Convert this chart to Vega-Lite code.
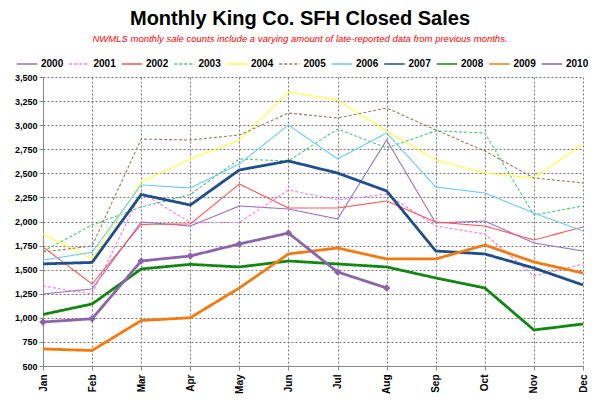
{
  "$schema": "https://vega.github.io/schema/vega-lite/v6.json",
  "width": 540,
  "height": 289,
  "autosize": "none",
  "padding": {"left": 43, "top": 77, "right": 17, "bottom": 42},
  "background": "#ffffff",
  "title": {
    "text": "Monthly King Co. SFH Closed Sales",
    "subtitle": "NWMLS monthly sale counts include a varying amount of late-reported data from previous months.",
    "font": "Liberation Sans",
    "fontSize": 20,
    "fontWeight": "bold",
    "color": "#000000",
    "subtitleFont": "Liberation Sans",
    "subtitleFontSize": 9.5,
    "subtitleFontStyle": "italic",
    "subtitleColor": "#FF0000",
    "subtitlePadding": 5,
    "anchor": "middle",
    "dx": -13,
    "offset": 10
  },
  "config": {
    "view": {"stroke": null},
    "font": "Liberation Sans"
  },
  "data": {
    "values": [
      {"year": "2000", "month": "Jan", "value": 1247}, {"year": "2000", "month": "Feb", "value": 1300}, {"year": "2000", "month": "Mar", "value": 1995}, {"year": "2000", "month": "Apr", "value": 1953}, {"year": "2000", "month": "May", "value": 2161}, {"year": "2000", "month": "Jun", "value": 2130}, {"year": "2000", "month": "Jul", "value": 2026}, {"year": "2000", "month": "Aug", "value": 2846}, {"year": "2000", "month": "Sep", "value": 1985}, {"year": "2000", "month": "Oct", "value": 2005}, {"year": "2000", "month": "Nov", "value": 1777}, {"year": "2000", "month": "Dec", "value": 1694},
      {"year": "2001", "month": "Jan", "value": 1330}, {"year": "2001", "month": "Feb", "value": 1247}, {"year": "2001", "month": "Mar", "value": 2300}, {"year": "2001", "month": "Apr", "value": 1990}, {"year": "2001", "month": "May", "value": 1990}, {"year": "2001", "month": "Jun", "value": 2327}, {"year": "2001", "month": "Jul", "value": 2223}, {"year": "2001", "month": "Aug", "value": 2286}, {"year": "2001", "month": "Sep", "value": 1953}, {"year": "2001", "month": "Oct", "value": 1870}, {"year": "2001", "month": "Nov", "value": 1434}, {"year": "2001", "month": "Dec", "value": 1559},
      {"year": "2002", "month": "Jan", "value": 1735}, {"year": "2002", "month": "Feb", "value": 1351}, {"year": "2002", "month": "Mar", "value": 1970}, {"year": "2002", "month": "Apr", "value": 1974}, {"year": "2002", "month": "May", "value": 2389}, {"year": "2002", "month": "Jun", "value": 2140}, {"year": "2002", "month": "Jul", "value": 2140}, {"year": "2002", "month": "Aug", "value": 2213}, {"year": "2002", "month": "Sep", "value": 1995}, {"year": "2002", "month": "Oct", "value": 1953}, {"year": "2002", "month": "Nov", "value": 1808}, {"year": "2002", "month": "Dec", "value": 1943},
      {"year": "2003", "month": "Jan", "value": 1690}, {"year": "2003", "month": "Feb", "value": 1964}, {"year": "2003", "month": "Mar", "value": 2150}, {"year": "2003", "month": "Apr", "value": 2280}, {"year": "2003", "month": "May", "value": 2649}, {"year": "2003", "month": "Jun", "value": 2628}, {"year": "2003", "month": "Jul", "value": 2960}, {"year": "2003", "month": "Aug", "value": 2763}, {"year": "2003", "month": "Sep", "value": 2940}, {"year": "2003", "month": "Oct", "value": 2919}, {"year": "2003", "month": "Nov", "value": 2068}, {"year": "2003", "month": "Dec", "value": 2161},
      {"year": "2004", "month": "Jan", "value": 1870}, {"year": "2004", "month": "Feb", "value": 1611}, {"year": "2004", "month": "Mar", "value": 2410}, {"year": "2004", "month": "Apr", "value": 2649}, {"year": "2004", "month": "May", "value": 2846}, {"year": "2004", "month": "Jun", "value": 3344}, {"year": "2004", "month": "Jul", "value": 3261}, {"year": "2004", "month": "Aug", "value": 2940}, {"year": "2004", "month": "Sep", "value": 2638}, {"year": "2004", "month": "Oct", "value": 2503}, {"year": "2004", "month": "Nov", "value": 2452}, {"year": "2004", "month": "Dec", "value": 2805},
      {"year": "2005", "month": "Jan", "value": 1683}, {"year": "2005", "month": "Feb", "value": 1746}, {"year": "2005", "month": "Mar", "value": 2856}, {"year": "2005", "month": "Apr", "value": 2846}, {"year": "2005", "month": "May", "value": 2898}, {"year": "2005", "month": "Jun", "value": 3126}, {"year": "2005", "month": "Jul", "value": 3074}, {"year": "2005", "month": "Aug", "value": 3178}, {"year": "2005", "month": "Sep", "value": 2950}, {"year": "2005", "month": "Oct", "value": 2732}, {"year": "2005", "month": "Nov", "value": 2452}, {"year": "2005", "month": "Dec", "value": 2400},
      {"year": "2006", "month": "Jan", "value": 1600}, {"year": "2006", "month": "Feb", "value": 1680}, {"year": "2006", "month": "Mar", "value": 2380}, {"year": "2006", "month": "Apr", "value": 2348}, {"year": "2006", "month": "May", "value": 2597}, {"year": "2006", "month": "Jun", "value": 3002}, {"year": "2006", "month": "Jul", "value": 2649}, {"year": "2006", "month": "Aug", "value": 2919}, {"year": "2006", "month": "Sep", "value": 2358}, {"year": "2006", "month": "Oct", "value": 2296}, {"year": "2006", "month": "Nov", "value": 2088}, {"year": "2006", "month": "Dec", "value": 1901},
      {"year": "2007", "month": "Jan", "value": 1560}, {"year": "2007", "month": "Feb", "value": 1575}, {"year": "2007", "month": "Mar", "value": 2280}, {"year": "2007", "month": "Apr", "value": 2171}, {"year": "2007", "month": "May", "value": 2535}, {"year": "2007", "month": "Jun", "value": 2628}, {"year": "2007", "month": "Jul", "value": 2503}, {"year": "2007", "month": "Aug", "value": 2317}, {"year": "2007", "month": "Sep", "value": 1694}, {"year": "2007", "month": "Oct", "value": 1663}, {"year": "2007", "month": "Nov", "value": 1517}, {"year": "2007", "month": "Dec", "value": 1341},
      {"year": "2008", "month": "Jan", "value": 1035}, {"year": "2008", "month": "Feb", "value": 1144}, {"year": "2008", "month": "Mar", "value": 1507}, {"year": "2008", "month": "Apr", "value": 1555}, {"year": "2008", "month": "May", "value": 1528}, {"year": "2008", "month": "Jun", "value": 1590}, {"year": "2008", "month": "Jul", "value": 1559}, {"year": "2008", "month": "Aug", "value": 1528}, {"year": "2008", "month": "Sep", "value": 1414}, {"year": "2008", "month": "Oct", "value": 1310}, {"year": "2008", "month": "Nov", "value": 874}, {"year": "2008", "month": "Dec", "value": 936},
      {"year": "2009", "month": "Jan", "value": 677}, {"year": "2009", "month": "Feb", "value": 661}, {"year": "2009", "month": "Mar", "value": 972}, {"year": "2009", "month": "Apr", "value": 1001}, {"year": "2009", "month": "May", "value": 1310}, {"year": "2009", "month": "Jun", "value": 1663}, {"year": "2009", "month": "Jul", "value": 1725}, {"year": "2009", "month": "Aug", "value": 1611}, {"year": "2009", "month": "Sep", "value": 1611}, {"year": "2009", "month": "Oct", "value": 1756}, {"year": "2009", "month": "Nov", "value": 1580}, {"year": "2009", "month": "Dec", "value": 1465},
      {"year": "2010", "month": "Jan", "value": 957}, {"year": "2010", "month": "Feb", "value": 990}, {"year": "2010", "month": "Mar", "value": 1590}, {"year": "2010", "month": "Apr", "value": 1642}, {"year": "2010", "month": "May", "value": 1767}, {"year": "2010", "month": "Jun", "value": 1880}, {"year": "2010", "month": "Jul", "value": 1476}, {"year": "2010", "month": "Aug", "value": 1310}
    ]
  },
  "encoding": {
    "x": {
      "field": "month",
      "type": "ordinal",
      "sort": ["Jan","Feb","Mar","Apr","May","Jun","Jul","Aug","Sep","Oct","Nov","Dec"],
      "scale": {"type": "point", "padding": 0},
      "axis": {
        "title": null,
        "labelAngle": -90,
        "labelFontWeight": "bold",
        "labelFontSize": 10,
        "labelColor": "#000000",
        "labelPadding": 4,
        "grid": true,
        "gridColor": "#777777",
        "gridDash": [2, 2],
        "gridWidth": 1,
        "domainColor": "#888888",
        "tickColor": "#888888",
        "tickSize": 4
      }
    },
    "y": {
      "field": "value",
      "type": "quantitative",
      "scale": {"domain": [500, 3500], "nice": false, "zero": false},
      "axis": {
        "title": null,
        "values": [500, 750, 1000, 1250, 1500, 1750, 2000, 2250, 2500, 2750, 3000, 3250, 3500],
        "format": ",.0f",
        "labelFontWeight": "bold",
        "labelFontSize": 9,
        "labelColor": "#000000",
        "grid": true,
        "gridColor": "#777777",
        "gridDash": [2, 2],
        "gridWidth": 1,
        "domainColor": "#888888",
        "tickColor": "#888888",
        "tickSize": 4
      }
    }
  },
  "layer": [
    {
      "transform": [{"filter": "toNumber(datum.year) < 2007"}],
      "mark": {"type": "line", "interpolate": "linear", "strokeWidth": 1.1},
      "encoding": {
        "color": {
          "field": "year",
          "type": "nominal",
          "scale": {
            "domain": ["2000","2001","2002","2003","2004","2005","2006","2007","2008","2009","2010"],
            "range": ["#9673C8","#FF77DD","#FF5555","#44CC77","#FFFF33","#9C7A58","#66CCFF","#1F4E8C","#118811","#F47A10","#8C64AA"]
          },
          "legend": {
            "title": null,
            "orient": "none",
            "legendX": -27,
            "legendY": -24,
            "direction": "horizontal",
            "columns": 11,
            "columnPadding": 1.5,
            "symbolType": "stroke",
            "symbolSize": 420,
            "symbolStrokeWidth": 1.5,
            "labelFontSize": 10,
            "labelFontWeight": "bold",
            "labelColor": "#000000",
            "labelLimit": 40,
            "labelOffset": 3
          }
        },
        "strokeDash": {
          "field": "year",
          "type": "nominal",
          "scale": {
            "domain": ["2000","2001","2002","2003","2004","2005","2006","2007","2008","2009","2010"],
            "range": [[1,0],[3,2],[1,0],[3,2],[1,0],[3,2],[1,0],[1,0],[1,0],[1,0],[1,0]]
          },
          "legend": null
        }
      }
    },
    {
      "transform": [{"filter": "toNumber(datum.year) >= 2007"}],
      "mark": {"type": "line", "interpolate": "linear", "strokeWidth": 2.8},
      "encoding": {
        "color": {"field": "year", "type": "nominal"},
        "strokeDash": {"field": "year", "type": "nominal"}
      }
    },
    {
      "transform": [{"filter": "datum.year == '2010'"}],
      "mark": {"type": "point", "shape": "diamond", "filled": true, "size": 55, "opacity": 1, "color": "#8C64AA"}
    }
  ]
}
